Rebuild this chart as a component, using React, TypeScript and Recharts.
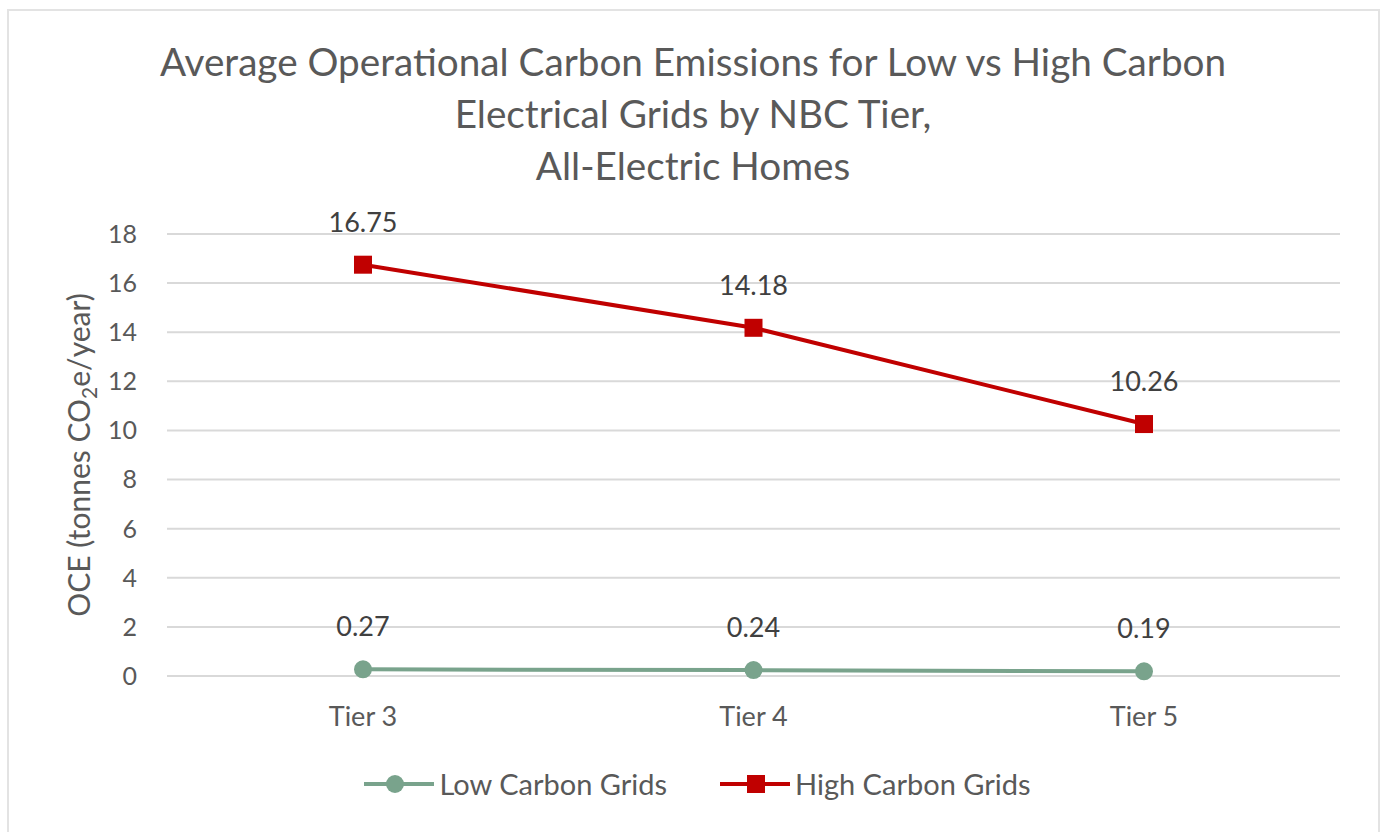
import { LineChart, Line, XAxis, YAxis, CartesianGrid, LabelList, Legend, Label } from 'recharts'

const tiers = ['Tier 3', 'Tier 4', 'Tier 5']
const lowCarbon = [0.27, 0.24, 0.19]
const highCarbon = [16.75, 14.18, 10.26]
const yTicks = [0, 2, 4, 6, 8, 10, 12, 14, 16, 18]

const data = tiers.map((tier, i) => ({ tier, low: lowCarbon[i], high: highCarbon[i] }))

const GREEN = '#79a38c'
const RED = '#c00000'
const TEXT = '#595959'
const LABEL = '#404040'
const GRID = '#d9d9d9'
const FONT = 'Lato, "Open Sans", sans-serif'

const SquareDot = (props: any) => {
  const { cx, cy } = props
  if (cx == null || cy == null) return null
  return <rect x={cx - 9} y={cy - 9} width={18} height={18} fill={RED} />
}

const YLabel = () => (
  <text
    x={0}
    y={0}
    transform="translate(90,455) rotate(-90)"
    textAnchor="middle"
    fill={TEXT}
    fontSize={30}
    fontFamily={FONT}
  >
    <tspan>OCE (tonnes CO</tspan>
    <tspan dy={7} fontSize={21}>2</tspan>
    <tspan dy={-7}>e/year)</tspan>
  </text>
)

const LegendContent = () => {
  const items = [
    { key: 'low', name: 'Low Carbon Grids', color: GREEN, shape: 'circle' },
    { key: 'high', name: 'High Carbon Grids', color: RED, shape: 'square' },
  ]
  return (
    <div style={{ display: 'flex', justifyContent: 'center', gap: 52, fontFamily: FONT }}>
      {items.map(it => (
        <div key={it.key} style={{ display: 'flex', alignItems: 'center' }}>
          <svg width={72} height={24} style={{ marginRight: 4 }}>
            <line x1={1} y1={12} x2={71} y2={12} stroke={it.color} strokeWidth={4} />
            {it.shape === 'circle'
              ? <circle cx={32} cy={12} r={9} fill={it.color} />
              : <rect x={28} y={3} width={18} height={18} fill={it.color} />}
          </svg>
          <span style={{ fontSize: 29, color: TEXT }}>{it.name}</span>
        </div>
      ))}
    </div>
  )
}

export default function App() {
  return (
    <div style={{ position: 'absolute', left: 0, top: 0, width: 1380, height: 832, background: '#fff', overflow: 'hidden' }}>
      <div style={{ position: 'absolute', left: 7, top: 9, width: 1369, height: 840, border: '2px solid #e3e3e3' }} />
      <div
        style={{
          position: 'absolute', top: 35, left: 0, width: 1386, textAlign: 'center',
          fontFamily: FONT, fontSize: 38.7, lineHeight: '52px', color: TEXT,
        }}
      >
        Average Operational Carbon Emissions for Low vs High Carbon<br />
        Electrical Grids by NBC Tier,<br />
        All-Electric Homes
      </div>
      <div style={{ position: 'absolute', left: 0, top: 0 }}>
        <LineChart
          width={1380}
          height={832}
          data={data}
          margin={{ top: 234, right: 40, bottom: 96, left: 0 }}
        >
          <CartesianGrid horizontal vertical={false} stroke={GRID} strokeWidth={2} />
          <XAxis
            dataKey="tier"
            height={60}
            padding={{ left: 196, right: 196 }}
            axisLine={{ stroke: GRID, strokeWidth: 2 }}
            tickLine={false}
            tickSize={0}
            tickMargin={31}
            fontSize={27}
            tick={{ fill: TEXT, fontSize: 27, fontFamily: FONT }}
          />
          <YAxis
            width={167}
            domain={[0, 18]}
            ticks={yTicks}
            interval={0}
            axisLine={false}
            tickLine={false}
            tickSize={0}
            tickMargin={30}
            fontSize={25}
            tick={{ fill: TEXT, fontSize: 25, fontFamily: FONT }}
          >
            <Label content={<YLabel />} />
          </YAxis>
          <Legend
            layout="horizontal"
            verticalAlign="middle"
            align="center"
            content={<LegendContent />}
            wrapperStyle={{ top: 766, left: 0, width: 1394 }}
          />
          <Line
            dataKey="low"
            name="Low Carbon Grids"
            stroke={GREEN}
            strokeWidth={4}
            dot={{ r: 9, fill: GREEN, stroke: 'none' }}
            activeDot={false}
            isAnimationActive={false}
          >
            <LabelList dataKey="low" position="top" offset={33} fill={LABEL} fontSize={27} fontFamily={FONT} formatter={(v: any) => Number(v).toFixed(2)} />
          </Line>
          <Line
            dataKey="high"
            name="High Carbon Grids"
            stroke={RED}
            strokeWidth={4}
            dot={<SquareDot />}
            activeDot={false}
            isAnimationActive={false}
          >
            <LabelList dataKey="high" position="top" offset={33} fill={LABEL} fontSize={27} fontFamily={FONT} formatter={(v: any) => Number(v).toFixed(2)} />
          </Line>
        </LineChart>
      </div>
    </div>
  )
}
